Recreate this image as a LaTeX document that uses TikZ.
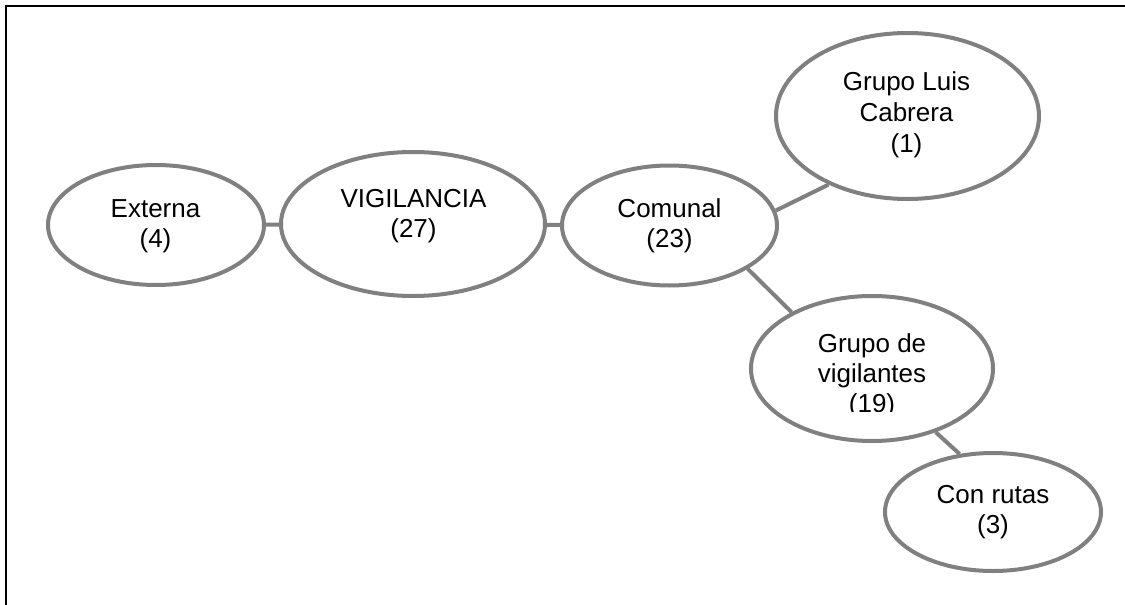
\documentclass[tikz,border=0pt]{standalone}
\usepackage{fontspec}
\setmainfont{Liberation Sans}
\usetikzlibrary{shapes.geometric}
\definecolor{edgegray}{RGB}{128,128,128}
\tikzset{
  ell/.style={ellipse, draw=edgegray, line width=4pt, inner sep=0pt},
  txt/.style={anchor=base, inner sep=0pt, font=\fontsize{26}{30}\selectfont},
  conn/.style={draw=edgegray, line width=4pt}
}
\begin{document}
\begin{tikzpicture}[x=1pt,y=-1pt]
\useasboundingbox (0,0) rectangle (1125,605);
\draw[line width=2pt] (1140,6) -- (6,6) -- (6,620);
\node[ell, minimum width=216pt, minimum height=120pt] (ext) at (156,225) {};
\node[ell, minimum width=264pt, minimum height=144pt] (vig) at (413,224) {};
\node[ell, minimum width=215pt, minimum height=120pt] (com) at (669.5,225.5) {};
\node[ell, minimum width=263pt, minimum height=166pt] (glc) at (907.5,116) {};
\node[ell, minimum width=242pt, minimum height=145pt] (gv) at (872,368.5) {};
\node[ell, minimum width=216pt, minimum height=118pt] (cr) at (993,512) {};
\node[txt] (ext1) at (155.5,217) {Externa};
\node[txt] (ext2) at (155.5,247) {(4)};
\node[txt] (vig1) at (413.5,207) {VIGILANCIA};
\node[txt] (vig2) at (413.5,237) {(27)};
\node[txt] (com1) at (669.5,217) {Comunal};
\node[txt] (com2) at (669.5,247) {(23)};
\node[txt] (glc1) at (906.5,90) {Grupo Luis};
\node[txt] (glc2) at (906.5,121) {Cabrera};
\node[txt] (glc3) at (906.5,152) {(1)};
\node[txt] (gv1) at (872,352) {Grupo de};
\node[txt] (gv2) at (872,382) {vigilantes};
\begin{scope}
\clip (820,380) rectangle (925,411.5);
\node[txt] (gv3) at (872,412) {(19)};
\end{scope}
\node[txt] (cr1) at (993,503) {Con rutas};
\node[txt] (cr2) at (993,533) {(3)};
\draw[conn] (ext) -- (vig);
\draw[conn] (vig) -- (com);
\draw[conn] (com.8.4) -- (glc.221.7);
\draw[conn] (com.-29.9) -- (gv.145.9);
\draw[conn] (gv.-45.2) -- (cr.120.7);
\end{tikzpicture}
\end{document}
